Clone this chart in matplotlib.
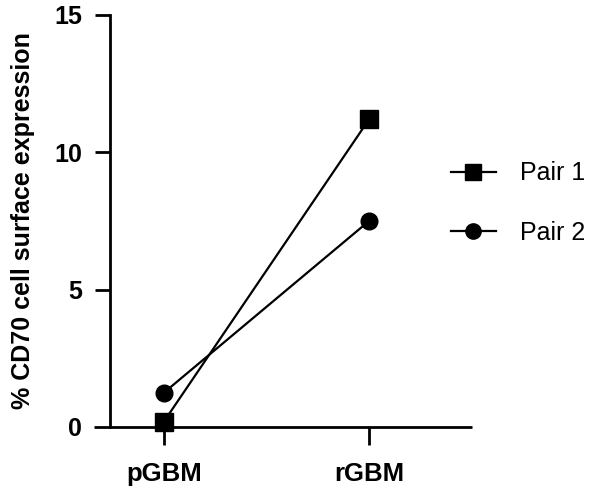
import numpy as np
import matplotlib
matplotlib.use("Agg")
import matplotlib.pyplot as plt
from matplotlib.lines import Line2D

plt.rcParams['font.family'] = ['Liberation Sans', 'DejaVu Sans']

groups = ["pGBM", "rGBM"]
pair1 = [0.2, 11.2]
pair2 = [1.25, 7.5]
series_names = ["Pair 1", "Pair 2"]
yticks = [0, 5, 10, 15]

fig = plt.figure(figsize=(6.02, 4.91), dpi=100)
W, H = 602, 491
left, right, top, bottom = 110, 472, 15, 427
ax = fig.add_axes([left / W, 1 - bottom / H, (right - left) / W, (bottom - top) / H])

x = np.arange(len(groups))
ax.plot(x, pair1, color="black", lw=1.6, marker="s", ms=12.5, clip_on=False, zorder=3)
ax.plot(x, pair2, color="black", lw=1.6, marker="o", ms=12, clip_on=False, zorder=3)

ax.set_xlim(-0.263, 1.502)
ax.set_ylim(0, 15)
ax.set_yticks(yticks)
ax.set_xticks(x)
ax.set_xticklabels(groups)

for s in ["top", "right"]:
    ax.spines[s].set_visible(False)
ax.spines["left"].set_linewidth(2)
ax.spines["bottom"].set_visible(False)
# x axis line extends left to the y tick length (Prism style)
ax.plot([-16 / (right - left), 1], [0, 0], transform=ax.transAxes, color="black",
        lw=2, clip_on=False, solid_capstyle="butt")

ax.tick_params(axis="y", length=11, width=2, labelsize=18, pad=9)
ax.tick_params(axis="x", length=13, width=2, labelsize=18.5, pad=12)
for lab in ax.get_xticklabels() + ax.get_yticklabels():
    lab.set_fontweight("bold")
ax.yaxis.get_major_ticks()[0].tick1line.set_visible(False)

ax.set_ylabel("% CD70 cell surface expression", fontsize=18, fontweight="bold", labelpad=14)

handles = [Line2D([], [], color="black", lw=1.6, marker="s", ms=11.5),
           Line2D([], [], color="black", lw=1.6, marker="o", ms=11)]
fig.legend(handles, series_names, loc="center left", bbox_to_anchor=(428 / W, 1 - 203 / H),
           frameon=False, fontsize=18, handlelength=1.8, labelspacing=1.42, handletextpad=1.0)

fig.savefig("out.png", dpi=100)
